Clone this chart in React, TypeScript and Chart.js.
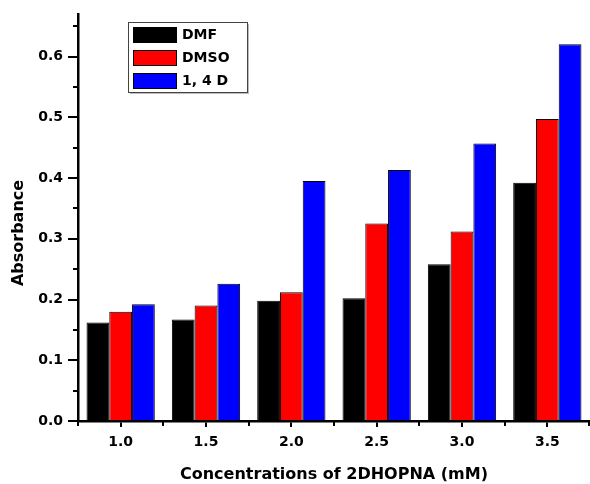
import React, { useEffect, useRef } from "react";
import { Chart, registerables } from "chart.js";

Chart.register(...registerables);

const categories = ["1.0", "1.5", "2.0", "2.5", "3.0", "3.5"];
const seriesNames = ["DMF", "DMSO", "1, 4 D"];
const dmfValues = [0.162, 0.167, 0.198, 0.202, 0.258, 0.392];
const dmsoValues = [0.18, 0.19, 0.212, 0.325, 0.312, 0.497];
const d14Values = [0.192, 0.226, 0.395, 0.413, 0.457, 0.62];
const seriesColors = ["#000000", "#FF0000", "#0000FF"];
const yMinorTicks = [0.05, 0.15, 0.25, 0.35, 0.45, 0.55, 0.65];
const xTitle = "Concentrations of 2DHOPNA (mM)";
const yTitle = "Absorbance";

const FONT = "'DejaVu Sans', sans-serif";

const extrasPlugin = {
  id: "extras",
  afterDraw(chart: any) {
    const ctx = chart.ctx as CanvasRenderingContext2D;
    const x = chart.scales.x;
    const y = chart.scales.y;
    const area = chart.chartArea;
    ctx.save();
    ctx.strokeStyle = "#000";
    ctx.lineWidth = 2;
    // y minor ticks
    for (const v of yMinorTicks) {
      const py = Math.round(y.getPixelForValue(v)) + 0.0;
      ctx.beginPath();
      ctx.moveTo(area.left - 5, py);
      ctx.lineTo(area.left, py);
      ctx.stroke();
    }
    // x minor ticks at category boundaries
    const n = categories.length;
    for (let i = 0; i <= n; i++) {
      let px: number;
      if (i === 0) px = area.left;
      else if (i === n) px = area.right - 1;
      else px = (x.getPixelForTick(i - 1) + x.getPixelForTick(i)) / 2;
      px = Math.round(px);
      ctx.beginPath();
      ctx.moveTo(px, area.bottom);
      ctx.lineTo(px, area.bottom + 5);
      ctx.stroke();
    }
    // axis titles
    ctx.fillStyle = "#000";
    ctx.font = `bold 16px ${FONT}`;
    ctx.textAlign = "center";
    ctx.textBaseline = "middle";
    ctx.fillText(xTitle, (area.left + area.right) / 2, 475);
    ctx.save();
    ctx.translate(19, 233);
    ctx.rotate(-Math.PI / 2);
    ctx.fillText(yTitle, 0, 0);
    ctx.restore();
    // legend
    const lx = 128, ly = 22, lw = 119, lh = 70;
    ctx.fillStyle = "#bbbbbb";
    ctx.fillRect(lx + 2, ly + lh, lw, 2);
    ctx.fillRect(lx + lw, ly + 2, 2, lh);
    ctx.fillStyle = "#ffffff";
    ctx.fillRect(lx, ly, lw, lh);
    ctx.lineWidth = 1;
    ctx.strokeStyle = "#444";
    ctx.strokeRect(lx + 0.5, ly + 0.5, lw, lh);
    chart.data.datasets.forEach((ds: any, i: number) => {
      const sy = 27 + i * 23;
      ctx.fillStyle = ds.backgroundColor;
      ctx.fillRect(133, sy, 43, 15);
      ctx.strokeStyle = "#000";
      ctx.strokeRect(133.5, sy + 0.5, 43, 15);
      ctx.fillStyle = "#000";
      ctx.font = `bold 14px ${FONT}`;
      ctx.textAlign = "left";
      ctx.textBaseline = "middle";
      ctx.fillText(ds.label, 182, sy + 8);
    });
    ctx.restore();
  },
};

export default function App() {
  const ref = useRef<HTMLCanvasElement | null>(null);
  useEffect(() => {
    if (!ref.current) return;
    const values = [dmfValues, dmsoValues, d14Values];
    const chart = new Chart(ref.current, {
      type: "bar",
      data: {
        labels: categories,
        datasets: seriesNames.map((name, i) => ({
          label: name,
          data: values[i],
          backgroundColor: seriesColors[i],
          borderColor: "#000000",
          borderWidth: 1,
          categoryPercentage: 0.8,
          barPercentage: 1.0,
        })),
      },
      options: {
        responsive: false,
        animation: false,
        devicePixelRatio: 1,
        layout: { padding: { top: 14, left: 0, right: 0, bottom: 0 } },
        plugins: {
          legend: { display: false },
          tooltip: { enabled: false },
        },
        scales: {
          x: {
            type: "category",
            offset: true,
            grid: {
              offset: false,
              drawOnChartArea: false,
              drawTicks: true,
              tickLength: 6,
              color: "#000",
              lineWidth: 2,
            },
            border: { display: true, color: "#000", width: 2.5 },
            ticks: {
              color: "#000",
              font: { family: FONT, size: 14, weight: "bold" },
              padding: 7,
              maxRotation: 0,
            },
            afterFit: (s: any) => {
              s.height = 63;
            },
          },
          y: {
            min: 0,
            max: 0.67,
            grid: {
              drawOnChartArea: false,
              drawTicks: true,
              tickLength: 10,
              color: "#000",
              lineWidth: 2,
            },
            border: { display: true, color: "#000", width: 2.5 },
            ticks: {
              stepSize: 0.1,
              includeBounds: false,
              color: "#000",
              font: { family: FONT, size: 14, weight: "bold" },
              padding: 5,
              callback: (v: any) => Number(v).toFixed(1),
            },
            afterFit: (s: any) => {
              s.width = 78;
            },
          },
        },
      },
      plugins: [extrasPlugin],
    });
    return () => chart.destroy();
  }, []);
  return (
    <div style={{ position: "absolute", left: 0, top: 0, width: 590, height: 484, background: "#fff" }}>
      <canvas ref={ref} width={590} height={484} />
    </div>
  );
}
